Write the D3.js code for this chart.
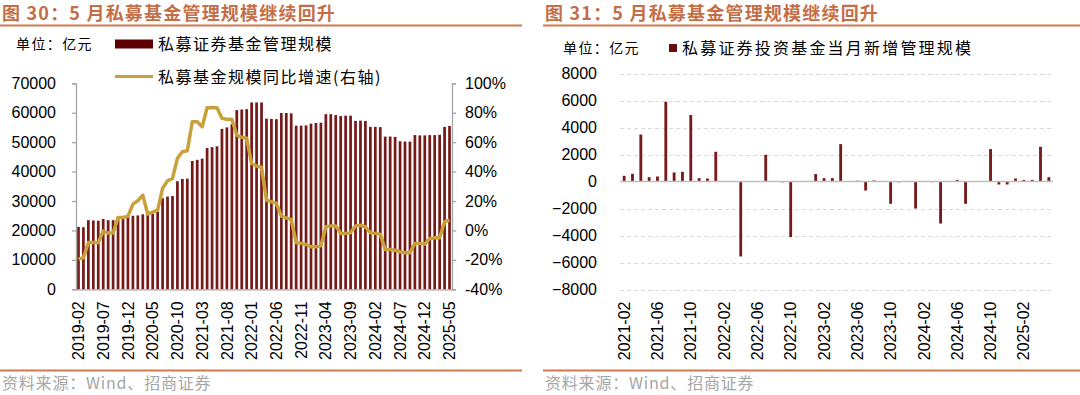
<!DOCTYPE html>
<html><head><meta charset="utf-8">
<script src="https://cdn.jsdelivr.net/npm/d3@7"></script>
<style>
body{margin:0;background:#fff}
svg{display:block}
text{font-family:"Liberation Sans",Arial,sans-serif}
.cjk{font-family:"Noto Sans CJK SC","Noto Sans",sans-serif}
</style>
</head><body>
<svg id="c" width="1080" height="395"></svg>
<script>
// ---------- Data ----------
const leftTitle = "图 30：5 月私募基金管理规模继续回升";
const rightTitle = "图 31：5 月私募基金管理规模继续回升";
const unitLabel = "单位：亿元";
const sourceLabel = "资料来源：Wind、招商证券";
const leftBarName = "私募证券基金管理规模";
const leftLineName = "私募基金规模同比增速(右轴)";
const rightBarName = "私募证券投资基金当月新增管理规模";

function monthList(startY, startM, count){
  const out=[]; let y=startY, m=startM;
  for(let i=0;i<count;i++){ out.push(y+"-"+String(m).padStart(2,"0")); m++; if(m>12){m=1;y++;} }
  return out;
}
const leftMonths = monthList(2019, 2, 76);   // 2019-02 .. 2025-05
const rightMonths = monthList(2021, 2, 52);  // 2021-02 .. 2025-05

const leftTickLabels = ["2019-02","2019-07","2019-12","2020-05","2020-10","2021-03","2021-08","2022-01","2022-06","2022-11","2023-04","2023-09","2024-02","2024-07","2024-12","2025-05"];
const rightTickLabels = ["2021-02","2021-06","2021-10","2022-02","2022-06","2022-10","2023-02","2023-06","2023-10","2024-02","2024-06","2024-10","2025-02"];
const leftYTicks = [0,10000,20000,30000,40000,50000,60000,70000];
const leftY2Ticks = [-40,-20,0,20,40,60,80,100];
const rightYTicks = [-8000,-6000,-4000,-2000,0,2000,4000,6000,8000];

// 私募证券基金管理规模 (亿元)
const fundScale = [
  21200,21100,
  23500,23400,23300, 23900,23500,23500, 24600,24600,24600,
  25000,25100,25500, 26000,25700,26300, 30900,31500,31700, 36700,37500,37600,
  43600,44000,44400, 48000,48300,48600, 54500,55000,56100, 60900,61100,61200,
  63500,63500,63500, 58000,57900,57800, 59900,59900,59800, 55600,55600,55700,
  56300,56500,56600, 59500,59500,59200, 58900,59000,59000, 57200,57300,57200,
  55200,55200,55100, 51900,51900,51800, 50300,50200,50200, 52400,52300,52300,
  52400,52400,52500, 55200,55500
];
// 私募基金规模同比增速 (%)
const fundYoY = [
  -19.5,-18.6,
  -8.2,-8.2,-8.4, -0.5,-1.8,-1.8, 8.8,8.8,9.7,
  17.9,20.2,24.0, 11.1,12.5,13.8, 28.6,33.8,35.4, 49.0,53.5,54.2,
  73.9,73.9,70.5, 83.4,83.6,83.4, 76.2,75.5,75.5, 64.8,63.3,62.6,
  45.6,43.7,42.9, 20.6,19.5,18.4, 9.7,8.6,7.5, -8.2,-8.8,-9.5,
  -11.1,-11.1,-10.5, 2.5,3.1,3.1, -2.0,-2.0,-1.6, 3.1,3.5,2.5,
  -1.6,-2.0,-2.5, -12.9,-12.9,-13.4, -14.5,-15.2,-15.2, -8.8,-8.8,-9.3,
  -5.4,-5.0,-5.0, 5.9,7.0
];
// 私募证券投资基金当月新增管理规模 (亿元)
const monthlyNew = [
  420,570,3480,320,370,5900,670,720,4920,250,220,
  2200,20,-20,-5550,20,-20,1980,20,-60,-4120,-30,20,
  550,250,250,2770,20,60,-670,80,20,-1650,-60,20,
  -2000,-40,-50,-3110,-40,120,-1650,-40,-40,2400,-220,-220,
  220,120,120,2570,320
];

// ---------- Styles ----------
const titleColor = "#c46e48", ruleColor = "#d4784f";
const barColor = "#761a1a", lineColor = "#c9a13b";
const axisColor = "#a6a6a6", gridColor = "#d9d9d9", textColor = "#000";

const svg = d3.select("#c");

// ---------- Frame: titles, rules, sources ----------
function frame(x0, x1, title){
  svg.append("text").attr("class","cjk").attr("x",x0+2).attr("y",20)
    .attr("font-size",18).attr("font-weight","bold").attr("letter-spacing",1.2)
    .attr("fill",titleColor).text(title);
  svg.append("line").attr("x1",x0).attr("x2",x1).attr("y1",25.5).attr("y2",25.5)
    .attr("stroke",ruleColor).attr("stroke-width",2);
  svg.append("line").attr("x1",x0).attr("x2",x1).attr("y1",370.5).attr("y2",370.5)
    .attr("stroke",ruleColor).attr("stroke-width",2);
  svg.append("text").attr("class","cjk").attr("x",x0+2).attr("y",389)
    .attr("font-size",16).attr("letter-spacing",0.8).attr("fill","#a6a6a6").text(sourceLabel);
}
frame(0, 522, leftTitle);
frame(543, 1080, rightTitle);

// ---------- Left chart ----------
const L = {left:76, right:452, top:83.3, bottom:289.3};
const xL = d3.scaleBand().domain(leftMonths).range([L.left, L.right]).paddingInner(0.45).paddingOuter(0.225);
const yL = d3.scaleLinear().domain([0,70000]).range([L.bottom, L.top]);
const yL2 = d3.scaleLinear().domain([-40,100]).range([L.bottom, L.top]);

svg.append("g").selectAll("rect").data(fundScale).join("rect")
  .attr("x",(d,i)=>xL(leftMonths[i])).attr("width",xL.bandwidth())
  .attr("y",d=>yL(d)).attr("height",d=>yL(0)-yL(d)).attr("fill",barColor);

const line = d3.line().x((d,i)=>xL(leftMonths[i])+xL.bandwidth()/2).y(d=>yL2(d)).curve(d3.curveLinear);
svg.append("path").datum(fundYoY).attr("d",line).attr("fill","none")
  .attr("stroke",lineColor).attr("stroke-width",3.5).attr("stroke-linejoin","round");

function styleAxis(g){
  g.selectAll("path.domain").attr("stroke",axisColor).attr("stroke-width",1.3);
  g.selectAll(".tick line").attr("stroke",axisColor).attr("stroke-width",1.3);
  g.selectAll("text").attr("font-size",16).attr("fill",textColor)
    .attr("font-family","'Liberation Sans',Arial,sans-serif");
}
const axL = svg.append("g").attr("transform",`translate(${L.left},0)`)
  .call(d3.axisLeft(yL).tickValues(leftYTicks).tickSize(4).tickPadding(16).tickFormat(d3.format("d")));
styleAxis(axL);
const axR = svg.append("g").attr("transform",`translate(${L.right},0)`)
  .call(d3.axisRight(yL2).tickValues(leftY2Ticks).tickSize(4).tickPadding(9).tickFormat(d=>d+"%"));
styleAxis(axR);
const axB = svg.append("g").attr("transform",`translate(0,${L.bottom})`)
  .call(d3.axisBottom(xL).tickValues(leftTickLabels).tickSize(0).tickSizeOuter(0));
styleAxis(axB);
axB.selectAll("text").attr("transform","rotate(-90)").attr("text-anchor","end")
  .attr("x",-12).attr("y",0).attr("dy","0.35em");

// left legend + unit
svg.append("text").attr("class","cjk").attr("x",16).attr("y",44).attr("dy","0.35em")
  .attr("font-size",14).attr("letter-spacing",1.4).attr("fill",textColor).text(unitLabel);
svg.append("rect").attr("x",115).attr("y",39.5).attr("width",38).attr("height",9).attr("fill","#5c0000");
svg.append("text").attr("class","cjk").attr("x",158).attr("y",44).attr("dy","0.35em")
  .attr("font-size",16).attr("letter-spacing",1.5).attr("fill",textColor).text(leftBarName);
svg.append("line").attr("x1",115).attr("x2",153).attr("y1",76.5).attr("y2",76.5)
  .attr("stroke",lineColor).attr("stroke-width",3.2);
svg.append("text").attr("class","cjk").attr("x",158).attr("y",77).attr("dy","0.35em")
  .attr("font-size",16).attr("letter-spacing",1.5).attr("fill",textColor).text(leftLineName);

// ---------- Right chart ----------
const R = {left:620, right:1053, top:73.5, bottom:289.5};
const xR = d3.scaleBand().domain(rightMonths).range([R.left, R.right]).paddingInner(0.66).paddingOuter(0.33);
const yRr = d3.scaleLinear().domain([-8000,8000]).range([R.bottom, R.top]);

// grid
svg.append("g").selectAll("line").data(rightYTicks.filter(d=>d!==0)).join("line")
  .attr("x1",R.left).attr("x2",R.right).attr("y1",d=>Math.round(yRr(d))+0.5).attr("y2",d=>Math.round(yRr(d))+0.5)
  .attr("stroke",gridColor).attr("stroke-width",1).attr("stroke-dasharray","4,3");

svg.append("g").selectAll("rect").data(monthlyNew).join("rect")
  .attr("x",(d,i)=>xR(rightMonths[i])).attr("width",xR.bandwidth())
  .attr("y",d=>yRr(Math.max(0,d))).attr("height",d=>Math.abs(yRr(d)-yRr(0))).attr("fill",barColor);

// zero line
svg.append("line").attr("x1",R.left).attr("x2",R.right).attr("y1",yRr(0)).attr("y2",yRr(0))
  .attr("stroke","#bfbfbf").attr("stroke-width",1.3);

const axRL = svg.append("g").attr("transform",`translate(${R.left},0)`)
  .call(d3.axisLeft(yRr).tickValues(rightYTicks).tickSize(0).tickPadding(23).tickFormat(d3.format("d")));
styleAxis(axRL);
axRL.select("path.domain").remove();
const axRB = svg.append("g").attr("transform",`translate(0,${R.bottom})`)
  .call(d3.axisBottom(xR).tickValues(rightTickLabels).tickSize(0).tickSizeOuter(0));
styleAxis(axRB);
axRB.select("path.domain").remove();
axRB.selectAll("text").attr("transform","rotate(-90)").attr("text-anchor","end")
  .attr("x",-12).attr("y",0).attr("dy","0.35em");

// right legend + unit
svg.append("text").attr("class","cjk").attr("x",563).attr("y",48).attr("dy","0.35em")
  .attr("font-size",14).attr("letter-spacing",1.4).attr("fill",textColor).text(unitLabel);
svg.append("rect").attr("x",669).attr("y",44).attr("width",8).attr("height",8).attr("fill","#6b0c0c");
svg.append("text").attr("class","cjk").attr("x",682).attr("y",48).attr("dy","0.35em")
  .attr("font-size",16).attr("letter-spacing",2.2).attr("fill",textColor).text(rightBarName);
</script>
</body></html>
